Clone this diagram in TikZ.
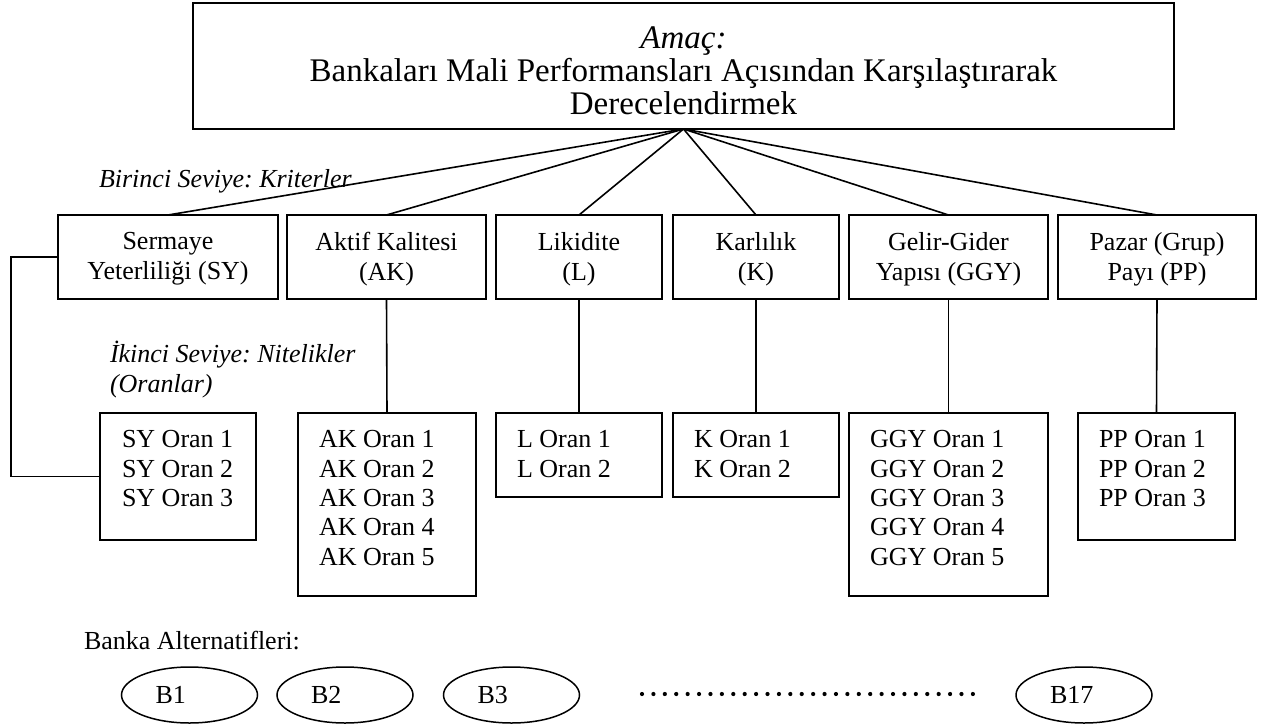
\documentclass[tikz,border=0pt]{standalone}
\usepackage{fontspec}
\setmainfont{Liberation Serif}
\usetikzlibrary{shapes.geometric,calc}
\frenchspacing
\begin{document}
\begin{tikzpicture}[x=1pt,y=-1pt,
  every node/.style={inner sep=0pt,outer sep=0pt},
  boxframe/.style={draw,line width=1.8pt,rectangle,anchor=north west},
  link/.style={line width=1.6pt},
  crit/.style={align=center,anchor=north,font=\fontsize{26}{30}\selectfont},
  ratio/.style={align=left,anchor=north west,font=\fontsize{26}{29.3}\selectfont},
  level/.style={anchor=base west,align=left,font=\fontsize{26}{30}\selectfont\itshape},
  alt/.style={draw,ellipse,line width=1.5pt,minimum width=136pt,minimum height=56pt,font=\fontsize{26}{30}\selectfont},
]
\fill[white] (0,0) rectangle (1264,726);
\useasboundingbox (0,0) rectangle (1264,726);

% goal
\node[boxframe,minimum width=981pt,minimum height=126pt] (goal) at (193,3) {};
\node[align=center,anchor=north,font=\fontsize{33}{33}\selectfont] (goaltext) at (683.5,27)
  {\textit{Amaç:}\\Bankaları Mali Performansları Açısından Karşılaştırarak\\Derecelendirmek};

% first level: criteria
\node[level] (lvlone) at (99,187) {Birinci Seviye: Kriterler};
\node[boxframe,minimum width=220pt,minimum height=84pt] (sy) at (58,215) {};
\node[boxframe,minimum width=199pt,minimum height=84pt] (ak) at (287,215) {};
\node[boxframe,minimum width=166pt,minimum height=84pt] (li) at (496,215) {};
\node[boxframe,minimum width=166pt,minimum height=84pt] (ka) at (673,215) {};
\node[boxframe,minimum width=199pt,minimum height=84pt] (gg) at (849,215) {};
\node[boxframe,minimum width=198pt,minimum height=84pt] (pp) at (1058,215) {};
\node[crit] (sytext) at (168,232.5) {Sermaye\\Yeterliliği (SY)};
\node[crit] (aktext) at (386.5,232.5) {Aktif Kalitesi\\(AK)};
\node[crit] (litext) at (579,232.5) {Likidite\\(L)};
\node[crit] (katext) at (756,232.5) {Karlılık\\(K)};
\node[crit] (ggtext) at (948.5,232.5) {Gelir-Gider\\Yapısı (GGY)};
\node[crit] (pptext) at (1157,232.5) {Pazar (Grup)\\Payı (PP)};

% second level: ratios
\node[level] (lvltwo) at (110,392) {İkinci Seviye: Nitelikler\\(Oranlar)};
\node[boxframe,minimum width=156pt,minimum height=127pt] (sy2) at (100,413) {};
\node[boxframe,minimum width=178pt,minimum height=183pt] (ak2) at (298,413) {};
\node[boxframe,minimum width=166pt,minimum height=84pt] (li2) at (496,413) {};
\node[boxframe,minimum width=166pt,minimum height=84pt] (ka2) at (673,413) {};
\node[boxframe,minimum width=199pt,minimum height=183pt] (gg2) at (849,413) {};
\node[boxframe,minimum width=157pt,minimum height=127pt] (pp2) at (1078,413) {};
\node[ratio] (sy2text) at (122,430.6) {SY Oran 1\\SY Oran 2\\SY Oran 3};
\node[ratio] (ak2text) at (319,430.6) {AK Oran 1\\AK Oran 2\\AK Oran 3\\AK Oran 4\\AK Oran 5};
\node[ratio] (li2text) at (517,430.6) {L Oran 1\\L Oran 2};
\node[ratio] (ka2text) at (694,430.6) {K Oran 1\\K Oran 2};
\node[ratio] (gg2text) at (870,430.6) {GGY Oran 1\\GGY Oran 2\\GGY Oran 3\\GGY Oran 4\\GGY Oran 5};
\node[ratio] (pp2text) at (1099,430.6) {PP Oran 1\\PP Oran 2\\PP Oran 3};

% connectors
\foreach \n in {sy,ak,li,ka,gg,pp} \draw[link] (goal.south) -- (\n.north);
\foreach \n in {ak,li,ka,gg,pp} \draw[link] (\n.south) -- (\n2.north);
\draw[link] (sy.west) -- ++(-47,0) |- (sy2.west);

% bank alternatives
\node[anchor=base west,font=\fontsize{26}{30}\selectfont] (alts) at (84,649) {Banka Alternatifleri:};
\node[alt] (b1) at (189.5,695) {\makebox[68pt][l]{B1}};
\node[alt] (b2) at (345,695) {\makebox[68pt][l]{B2}};
\node[alt] (b3) at (511.5,695) {\makebox[68pt][l]{B3}};
\node[alt] (b17) at (1084,695) {\makebox[68pt][l]{B17}};
\foreach \k in {0,...,29} \fill (642+\k*11.41,694) circle (2.1pt);
\end{tikzpicture}
\end{document}
